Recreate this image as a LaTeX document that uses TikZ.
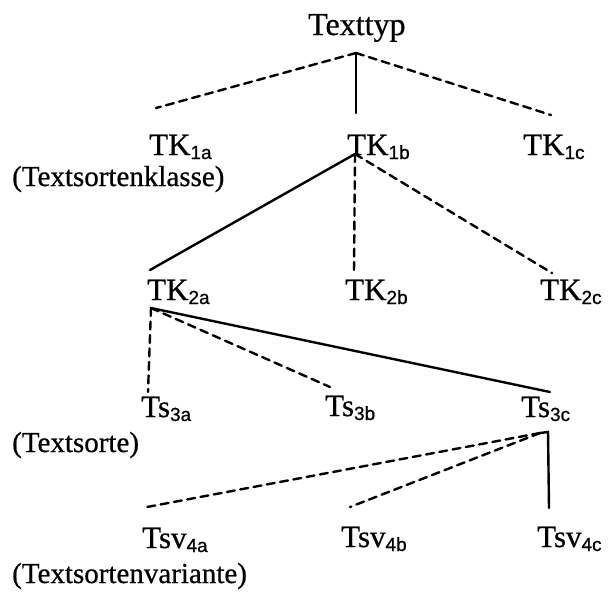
\documentclass[tikz,border=0pt]{standalone}
\usepackage{fontspec}
\setmainfont[FakeBold=0.6]{Liberation Serif}
\newfontfamily\idxfont[FakeBold=0.8]{Liberation Sans}
% label with a lowered sans-serif index
\newcommand{\lbl}[2]{#1\raisebox{-4pt}{\idxfont\fontsize{19}{19}\selectfont #2}}

\begin{document}
\begin{tikzpicture}[x=1pt,y=-1pt,
  term/.style={anchor=base west, inner sep=0pt, font=\fontsize{31}{34}\selectfont},
  note/.style={term, font=\fontsize{29}{32}\selectfont},
  link/.style={line width=2.4pt, line cap=round},
  optlink/.style={link, dash pattern=on 8pt off 5.5pt}]
\useasboundingbox (0,0) rectangle (609,594);

% ---- level 0
\node[term, font=\fontsize{32}{35}\selectfont] (tt) at (308,35) {Texttyp};

% ---- level 1: Textsortenklassen
\node[term] (tk1a) at (149,155) {\lbl{TK}{1a}};
\node[term] (tk1b) at (347,155) {\lbl{TK}{1b}};
\node[term] (tk1c) at (523,155) {\lbl{TK}{1c}};
\node[note] (n1) at (12,186) {(Textsortenklasse)};

% ---- level 2
\node[term] (tk2a) at (147,300) {\lbl{TK}{2a}};
\node[term] (tk2b) at (345,300) {\lbl{TK}{2b}};
\node[term] (tk2c) at (540,300) {\lbl{TK}{2c}};

% ---- level 3: Textsorten
\node[term] (ts3a) at (141,417) {\lbl{Ts}{3a}};
\node[term] (ts3b) at (325,416) {\lbl{Ts}{3b}};
\node[term] (ts3c) at (521,417) {\lbl{Ts}{3c}};
\node[note] (n3) at (12,452) {(Textsorte)};

% ---- level 4: Textsortenvarianten
\node[term] (tsv4a) at (142,548) {\lbl{Tsv}{4a}};
\node[term] (tsv4b) at (341,547) {\lbl{Tsv}{4b}};
\node[term] (tsv4c) at (537,547) {\lbl{Tsv}{4c}};
\node[note] (n4) at (12,583) {(Textsortenvariante)};

% ---- branching points and line ends
\coordinate (tt-j)   at (356,53);
\coordinate (tk1a-e) at (156,108);
\coordinate (tk1b-e) at (356,113);
\coordinate (tk1c-e) at (551,115);

\coordinate (tk1b-j) at (355,154);
\coordinate (tk2a-e) at (150,270);
\coordinate (tk2b-e) at (354,272);
\coordinate (tk2c-e) at (552,273);

\coordinate (tk2a-j) at (151,308);
\coordinate (ts3a-e) at (148,392);
\coordinate (ts3b-e) at (330,387);
\coordinate (ts3c-e) at (550,392);

\coordinate (ts3c-j) at (540,433);
\coordinate (ts3c-k) at (548,432);
\coordinate (tsv4a-e) at (147,507);
\coordinate (tsv4b-e) at (350,507);
\coordinate (tsv4c-e) at (549,508);

% ---- connectors
\draw[optlink] (tt-j) -- (tk1a-e);
\draw[link]    (tt-j) -- (tk1b-e);
\draw[optlink] (tt-j) -- (tk1c-e);

\draw[link]    (tk1b-j) -- (tk2a-e);
\draw[optlink] (tk1b-j) -- (tk2b-e);
\draw[optlink] (tk1b-j) -- (tk2c-e);

\draw[optlink] (tk2a-j) -- (ts3a-e);
\draw[optlink] (tk2a-j) -- (ts3b-e);
\draw[link]    (tk2a-j) -- (ts3c-e);

\draw[optlink] (ts3c-j) -- (tsv4a-e);
\draw[optlink] (ts3c-j) -- (tsv4b-e);
\draw[link]    (ts3c-j) -- (ts3c-k) -- (tsv4c-e);
\end{tikzpicture}
\end{document}
